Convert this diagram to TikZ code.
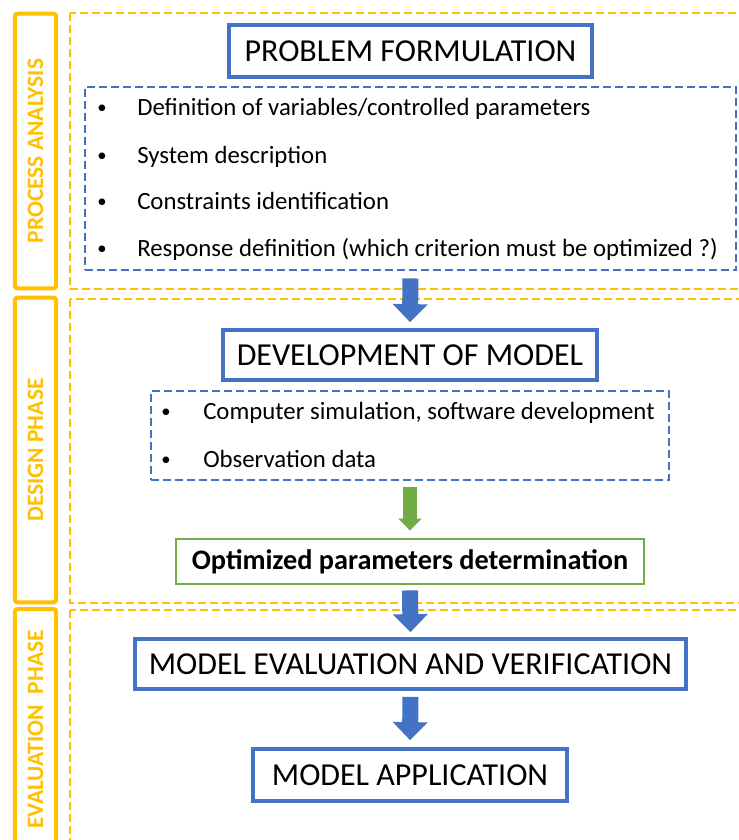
\documentclass[tikz,border=0pt]{standalone}
\usepackage{fontspec}
\setmainfont{Carlito}
\usetikzlibrary{arrows.meta,positioning,calc}
\definecolor{offblue}{HTML}{4472C4}
\definecolor{offorange}{HTML}{FFC000}
\definecolor{offgreen}{HTML}{70AD47}

\begin{document}
\begin{tikzpicture}[x=0.75pt,y=-0.75pt,
  phasebar/.style={draw=offorange,line width=3pt,rounded corners=2pt,rotate=90,inner sep=0pt,
    minimum height=31pt,text=offorange,font=\fontsize{17.6}{20}\selectfont\bfseries},
  phasezone/.style={draw=offorange,line width=1.9pt,dash pattern=on 6pt off 3pt},
  stage/.style={draw=offblue,line width=2.8pt,fill=white,inner sep=0pt,font=\fontsize{24}{27}\selectfont},
  itemlist/.style={draw=offblue,line width=1.9pt,dash pattern=on 6pt off 3pt,inner sep=0pt},
  item/.style={anchor=base west,inner sep=0pt,font=\fontsize{18.6}{20}\selectfont},
  dot/.style={anchor=base,inner sep=0pt,font=\fontsize{14}{16}\selectfont},
  blockarrow/.style={draw=offblue,line width=12pt,-{Triangle[length=13.5pt,width=25.5pt]}},
  greenarrow/.style={draw=offgreen,line width=10pt,-{Triangle[length=9pt,width=17pt]}}]
\useasboundingbox (0,0) rectangle (739,840);
% phases
\draw[phasezone] (70,13) rectangle (745,289);
\draw[phasezone] (70,299) rectangle (745,603);
\draw[phasezone] (70,610) rectangle (745,850);
\node[phasebar,minimum width=206pt] (bpa) at (35.5,151) {PROCESS ANALYSIS};
\node[phasebar,minimum width=228.5pt] (bdp) at (35.5,450) {DESIGN PHASE};
\node[phasebar,minimum width=180.75pt] (bep) at (35.5,729.5) {EVALUATION\ \ PHASE};
% process analysis
\node[stage,minimum width=272pt,minimum height=39pt] (pf) at (410.5,51) {PROBLEM FORMULATION};
\node[itemlist,minimum width=488.5pt,minimum height=137.5pt] (pflist) at (410.5,178.5) {};
\node[dot] (d1) at (102,113) {•};
\node[item] (i1) at (137,115) {Definition of variables/controlled parameters};
\node[dot] (d2) at (102,161) {•};
\node[item] (i2) at (137,163) {System description};
\node[dot] (d3) at (102,207) {•};
\node[item] (i3) at (137,209) {Constraints identification};
\node[dot] (d4) at (102,254) {•};
\node[item] (i4) at (137,256) {Response definition (which criterion must be optimized ?)};
% design phase
\node[stage,minimum width=280pt,minimum height=37.5pt] (dev) at (410,355) {DEVELOPMENT OF MODEL};
\node[itemlist,minimum width=388.5pt,minimum height=67pt] (devlist) at (410,435.5) {};
\node[dot] (d5) at (166,417) {•};
\node[item] (i5) at (203,419) {Computer simulation, software development};
\node[dot] (d6) at (166,465) {•};
\node[item] (i6) at (203,467) {Observation data};
\node[draw=offgreen,line width=1.9pt,inner sep=0pt,minimum width=351pt,minimum height=34pt,
  font=\fontsize{21.2}{23}\selectfont\bfseries] (opt) at (410,561.5) {Optimized parameters determination};
% evaluation phase
\node[stage,minimum width=413pt,minimum height=37.5pt] (eval) at (410.5,664) {MODEL EVALUATION AND VERIFICATION};
\node[stage,minimum width=235.5pt,minimum height=39pt] (app) at (410,775) {MODEL APPLICATION};
% arrows
\draw[blockarrow] ($(pflist.south)+(0,7)$) -- ($(dev.north)+(0,-6)$);
\draw[greenarrow] ($(devlist.south)+(0,6)$) -- ($(opt.north)+(0,-7)$);
\draw[blockarrow] ($(opt.south)+(0,5)$) -- ($(eval.north)+(0,-5)$);
\draw[blockarrow] ($(eval.south)+(0,6)$) -- ($(app.north)+(0,-7)$);
\end{tikzpicture}
\end{document}
